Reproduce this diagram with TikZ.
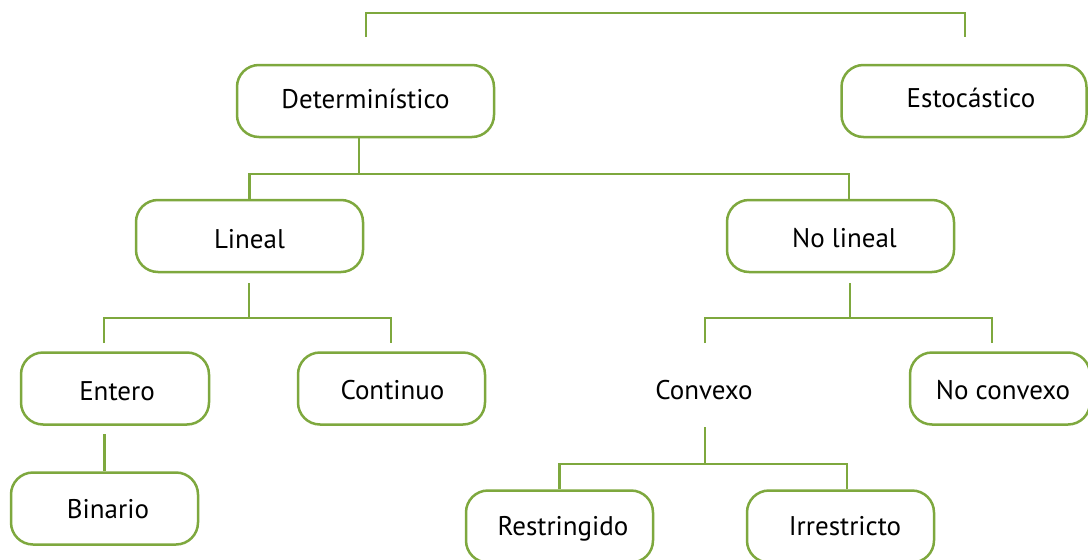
\documentclass[tikz,border=0pt]{standalone}
\usepackage{fontspec}
\setmainfont{PT Sans}
\definecolor{lgreen}{RGB}{126,168,62}
\tikzset{
  box/.style={draw=lgreen, line width=2.5pt, rounded corners=22pt, minimum height=72pt, inner sep=0pt, text depth=0pt, font=\fontsize{27}{30}\selectfont},
  bl/.style={text height=#1},
  plaintext/.style={inner sep=0pt, font=\fontsize{27}{30}\selectfont},
  link/.style={draw=lgreen, line width=2.5pt}
}
\begin{document}
\begin{tikzpicture}[x=1pt,y=-1pt]
\useasboundingbox (0,0) rectangle (1088,560);
% nodes
\node[box, bl=14pt, minimum width=257pt] (det) at (365.5,101) {Determinístico};
\node[box, bl=13.5pt, minimum width=245pt] (est) at (964,101) {\hspace*{14pt}Estocástico};
\node[box, bl=24.5pt, minimum width=227pt] (lin) at (249.5,236) {Lineal};
\node[box, bl=23pt, minimum width=227pt] (nol) at (840.5,236) {\hspace*{8pt}No lineal};
\node[box, bl=24.5pt, minimum width=188pt] (ent) at (115,388.5) {\hspace*{4pt}Entero};
\node[box, bl=21.4pt, minimum width=187pt] (con) at (391.5,388.5) {\hspace*{2pt}Continuo};
\node[plaintext, anchor=base] (cvx) at (704,399) {Convexo};
\node[box, bl=21pt, minimum width=180pt] (ncv) at (1000,388.5) {\hspace*{6pt}No convexo};
\node[box, bl=20.4pt, minimum width=187pt] (bin) at (104.5,508.5) {\hspace*{7pt}Binario};
\node[box, bl=17pt, minimum width=187pt] (res) at (559.5,526.5) {\hspace*{7pt}Restringido};
\node[box, bl=17pt, minimum width=187pt] (irr) at (840.5,526.5) {\hspace*{9pt}Irrestricto};
% free ends
\coordinate (tl) at (366,37);
\coordinate (tr) at (965,37);
\coordinate (lb) at (249,283);
\coordinate (lj) at (249,318);
\coordinate (enttop) at (104,343);
\coordinate (contop) at (391,343);
\coordinate (nb) at (850,283);
\coordinate (nj) at (850,318);
\coordinate (cvxtop) at (705,343);
\coordinate (ncvtop) at (992,343);
\coordinate (cb) at (705,427);
\coordinate (cj) at (705,464);
\coordinate (dj) at (359,174);
% connectors
\draw[link] (tl) -- ++(0,-24) -| (tr);
\draw[link] ([xshift=-6.5pt]det.south) -- (dj);
\draw[link] (lin.north) |- (dj) -| ([xshift=8.5pt]nol.north);
\draw[link] (lb) -- (lj);
\draw[link] (enttop) |- (lj) -| (contop);
\draw[link] (nb) -- (nj);
\draw[link] (cvxtop) |- (nj) -| (ncvtop);
\draw[link] (bin.north) -- ++(0,-37);
\draw[link] (cb) -- (cj);
\draw[link] (res.north) |- (cj) -| ([xshift=6.5pt]irr.north);
\end{tikzpicture}
\end{document}
